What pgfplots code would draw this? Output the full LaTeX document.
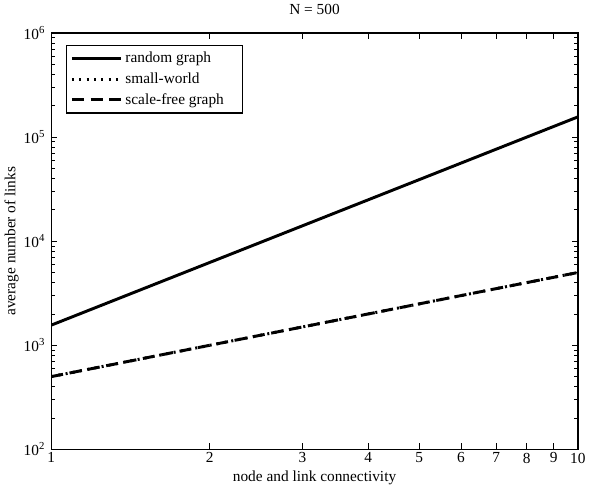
\documentclass[border=0pt]{standalone}
\usepackage{fontspec}
\setmainfont{Liberation Serif}
\usepackage{pgfplots}
\pgfplotsset{compat=1.18}

\begin{document}
\begin{tikzpicture}
\begin{loglogaxis}[
    scale only axis,
    width=394.5pt,
    height=312pt,
    xmin=1, xmax=10,
    ymin=1e2, ymax=1e6,
    xtick={1,2,3,4,5,6,7,8,9,10},
    xticklabels={1,2,3,4,5,6,7,8,9,10},
    ytick={1e2,1e3,1e4,1e5,1e6},
    yticklabels={10\textsuperscript{2},10\textsuperscript{3},10\textsuperscript{4},10\textsuperscript{5},10\textsuperscript{6}},
    minor ytick={200,300,400,500,600,700,800,900,
                 2000,3000,4000,5000,6000,7000,8000,9000,
                 20000,30000,40000,50000,60000,70000,80000,90000,
                 200000,300000,400000,500000,600000,700000,800000,900000},
    tick align=inside,
    major tick length=4.5pt,
    minor tick length=2.6pt,
    tick style={black, line width=0.5pt},
    axis line style={line width=1pt},
    ticklabel style={font=\fontsize{11.5}{13}\selectfont},
    xticklabel style={yshift=1pt},
    yticklabel style={xshift=-1pt},
    title={N = 500},
    title style={font=\fontsize{11.5}{13}\selectfont, yshift=4pt},
    xlabel={node and link connectivity},
    ylabel={average number of links},
    label style={font=\fontsize{11.5}{13}\selectfont},
    xlabel style={yshift=1pt},
    ylabel style={yshift=-3pt},
    legend style={at={(0.028,0.971)}, anchor=north west,
        font=\fontsize{11.5}{13}\selectfont,
        draw=black, line width=0.8pt, inner xsep=3pt, inner ysep=3pt,
        row sep=2pt, cells={anchor=west}},
    legend image code/.code={\draw[#1] (0cm,0cm) -- (1.3cm,0cm);},
]
\addplot[black, line width=2.2pt] coordinates {
    (1,1560) (2,6240) (3,14040) (4,24960) (5,39000)
    (6,56160) (7,76440) (8,99840) (9,126360) (10,156000)};
\addplot[black, line width=2.2pt, dash pattern=on 1.5pt off 4pt] coordinates {
    (1,500) (2,1000) (3,1500) (4,2000) (5,2500)
    (6,3000) (7,3500) (8,4000) (9,4500) (10,5000)};
\addplot[black, line width=2.2pt, dash pattern=on 9pt off 5pt] coordinates {
    (1,500) (2,1000) (3,1500) (4,2000) (5,2500)
    (6,3000) (7,3500) (8,4000) (9,4500) (10,5000)};
\legend{random graph, small-world, scale-free graph\hspace*{9pt}}
\end{loglogaxis}
\end{tikzpicture}
\end{document}
